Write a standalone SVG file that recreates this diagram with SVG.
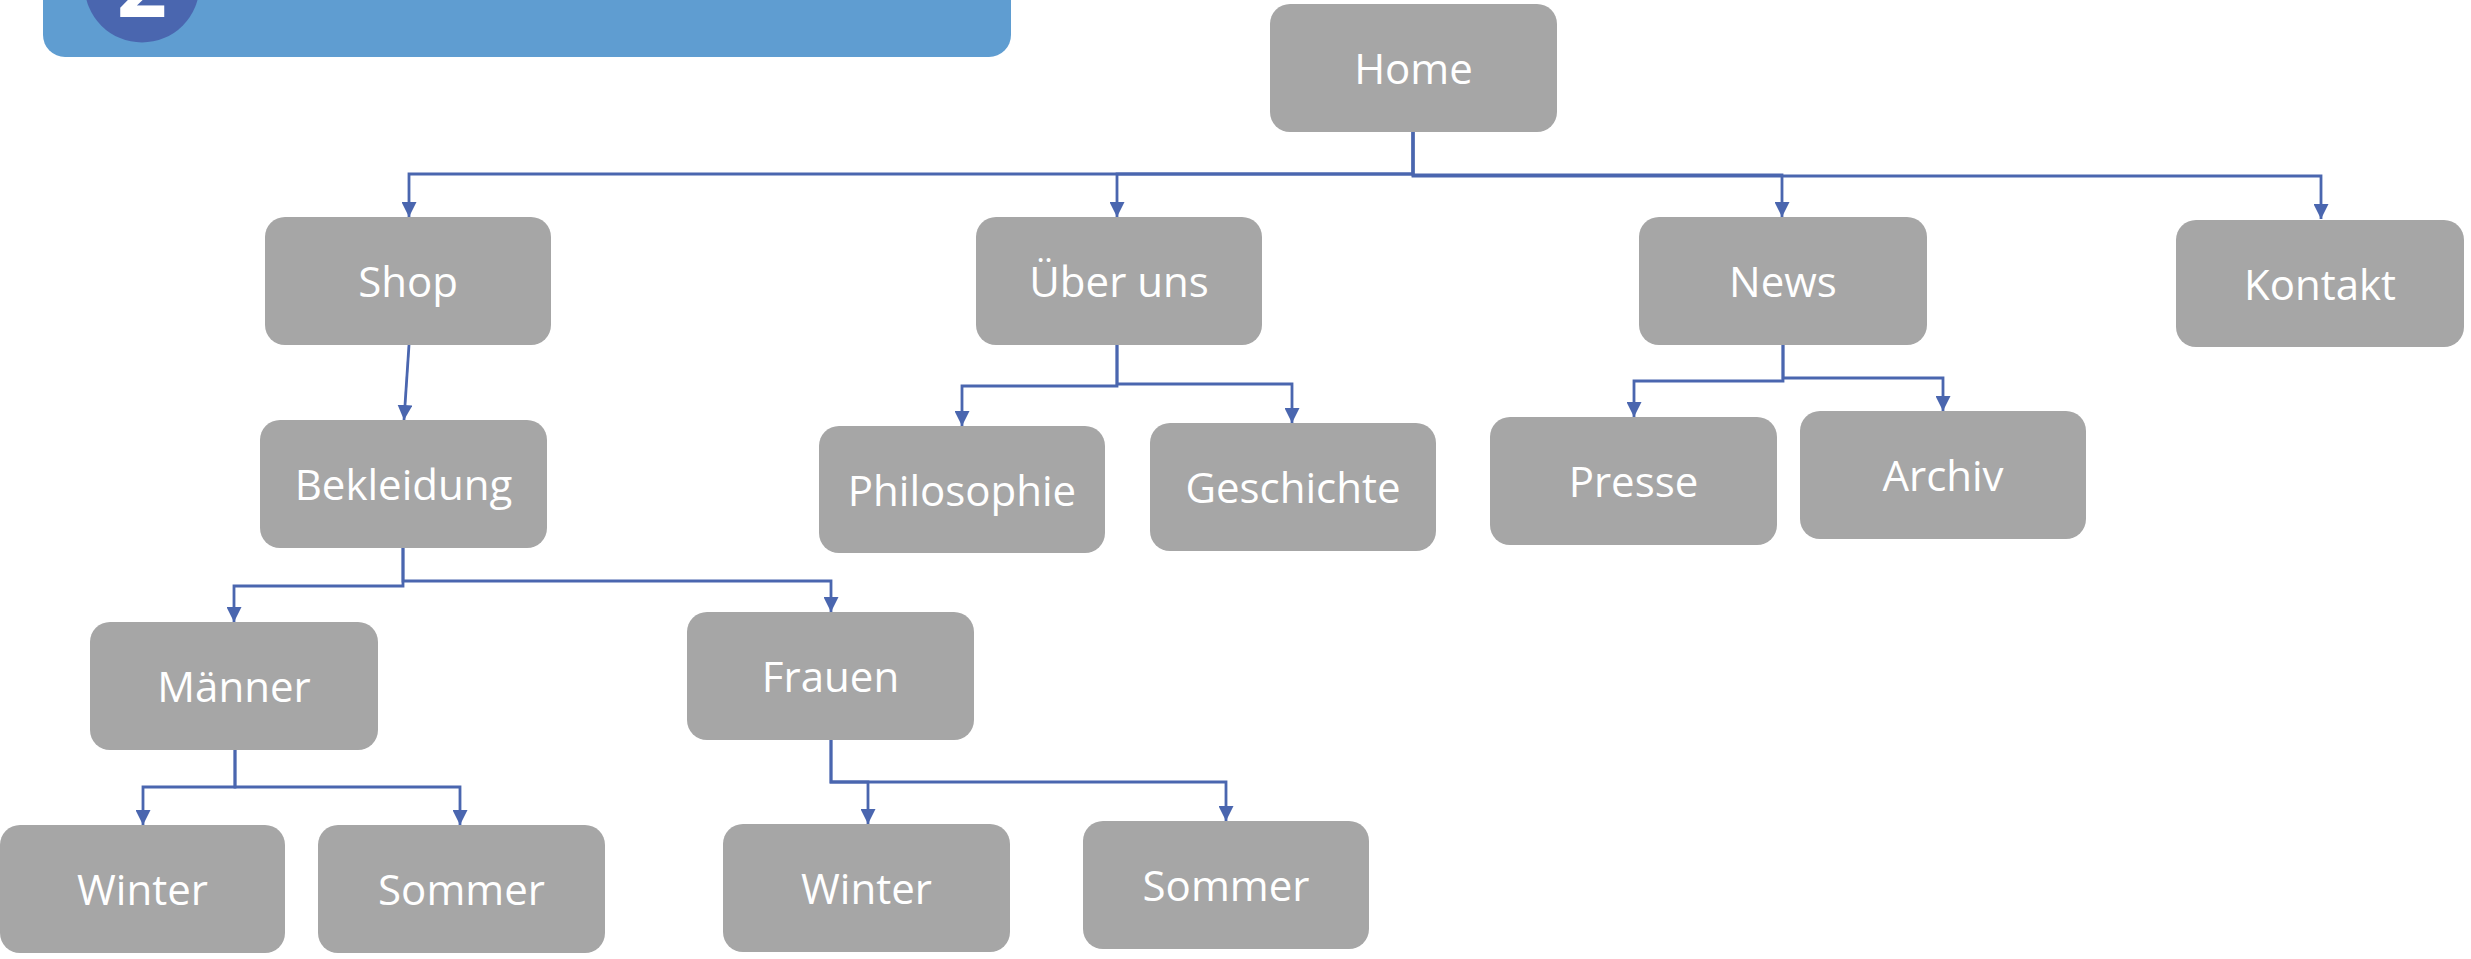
<svg xmlns="http://www.w3.org/2000/svg" width="2471" height="959" viewBox="0 0 2471 959">
<style>
.box{fill:#A6A6A6}
.lbl{font-family:"Open Sans","Liberation Sans",sans-serif;font-size:42px;fill:#FFFFFF;text-anchor:middle}
.con{fill:none;stroke:#4A66AF;stroke-width:2.8;marker-end:url(#arr)}
</style>
<defs>
<marker id="arr" markerUnits="userSpaceOnUse" markerWidth="15" markerHeight="15" refX="15" refY="7.5" orient="auto">
<path d="M0,0 L15,7.5 L0,15 Z" fill="#4A66AF"/>
</marker>
</defs>
<rect width="2471" height="959" fill="#FFFFFF"/>
<g id="banner">
<rect x="43" y="-60" width="968" height="117" rx="22" fill="#5F9DD1"/>
<circle cx="142" cy="-15" r="57.5" fill="#4A66AF"/>
<text x="142" y="17" font-family="'Open Sans','Liberation Sans',sans-serif" font-size="88" font-weight="bold" fill="#FFFFFF" text-anchor="middle">2</text>
</g>
<g id="connectors">
<path class="con" d="M1413,132 V174 H409 V217"/>
<path class="con" d="M1413,132 V174 H1117 V217"/>
<path class="con" d="M1413,132 V175 H1782 V217"/>
<path class="con" d="M1413,132 V176 H2321 V219"/>
<path class="con" d="M409,345 L404,420"/>
<path class="con" d="M403,548 V586 H234 V622"/>
<path class="con" d="M403,548 V581 H831 V612"/>
<path class="con" d="M1117,344 V386 H962 V426"/>
<path class="con" d="M1117,344 V384 H1292 V423"/>
<path class="con" d="M1783,345 V381 H1634 V417"/>
<path class="con" d="M1783,345 V378 H1943 V411"/>
<path class="con" d="M235,750 V787 H143 V825"/>
<path class="con" d="M235,750 V787 H460 V825"/>
<path class="con" d="M831,740 V782 H868 V824"/>
<path class="con" d="M831,740 V782 H1226 V821"/>
</g>
<g id="home"><rect class="box" x="1270" y="4" width="287" height="128" rx="20"/><text class="lbl" x="1413.5" y="84">Home</text></g>
<g id="shop"><rect class="box" x="265" y="217" width="286" height="128" rx="20"/><text class="lbl" x="408" y="297">Shop</text></g>
<g id="ueber-uns"><rect class="box" x="976" y="217" width="286" height="128" rx="20"/><text class="lbl" x="1119" y="297">Über uns</text></g>
<g id="news"><rect class="box" x="1639" y="217" width="288" height="128" rx="20"/><text class="lbl" x="1783" y="297">News</text></g>
<g id="kontakt"><rect class="box" x="2176" y="220" width="288" height="127" rx="20"/><text class="lbl" x="2320" y="300">Kontakt</text></g>
<g id="bekleidung"><rect class="box" x="260" y="420" width="287" height="128" rx="20"/><text class="lbl" x="403.5" y="500">Bekleidung</text></g>
<g id="philosophie"><rect class="box" x="819" y="426" width="286" height="127" rx="20"/><text class="lbl" x="962" y="506">Philosophie</text></g>
<g id="geschichte"><rect class="box" x="1150" y="423" width="286" height="128" rx="20"/><text class="lbl" x="1293" y="503">Geschichte</text></g>
<g id="presse"><rect class="box" x="1490" y="417" width="287" height="128" rx="20"/><text class="lbl" x="1633.5" y="497">Presse</text></g>
<g id="archiv"><rect class="box" x="1800" y="411" width="286" height="128" rx="20"/><text class="lbl" x="1943" y="491">Archiv</text></g>
<g id="maenner"><rect class="box" x="90" y="622" width="288" height="128" rx="20"/><text class="lbl" x="234" y="702">Männer</text></g>
<g id="frauen"><rect class="box" x="687" y="612" width="287" height="128" rx="20"/><text class="lbl" x="830.5" y="692">Frauen</text></g>
<g id="winter-m"><rect class="box" x="0" y="825" width="285" height="128" rx="20"/><text class="lbl" x="142.5" y="905">Winter</text></g>
<g id="sommer-m"><rect class="box" x="318" y="825" width="287" height="128" rx="20"/><text class="lbl" x="461.5" y="905">Sommer</text></g>
<g id="winter-f"><rect class="box" x="723" y="824" width="287" height="128" rx="20"/><text class="lbl" x="866.5" y="904">Winter</text></g>
<g id="sommer-f"><rect class="box" x="1083" y="821" width="286" height="128" rx="20"/><text class="lbl" x="1226" y="901">Sommer</text></g>
</svg>
